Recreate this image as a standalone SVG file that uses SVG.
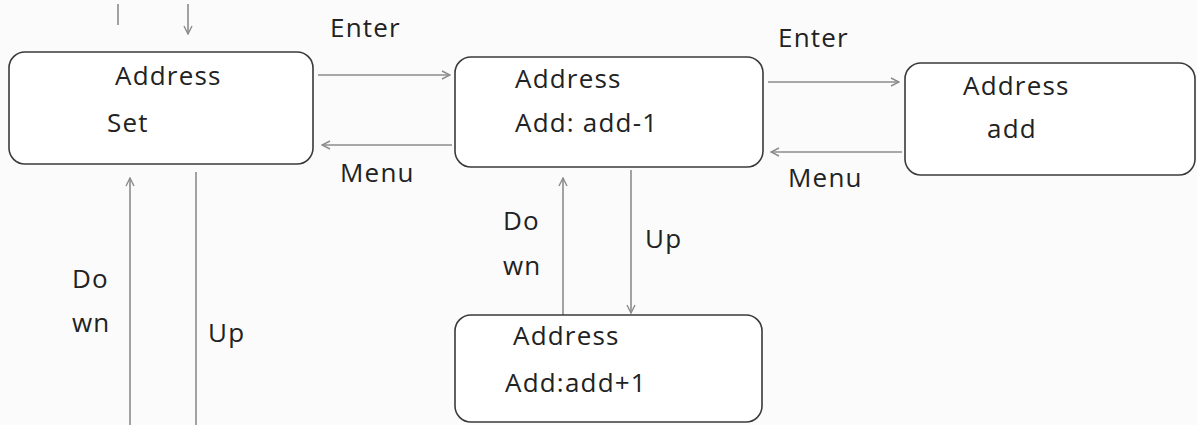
<svg xmlns="http://www.w3.org/2000/svg" width="1197" height="425" viewBox="0 0 1197 425">
<style>
.box{fill:#ffffff;stroke:#3a3a3a;stroke-width:1.6}
.t{font-family:"Open Sans","Noto Sans",sans-serif;font-size:26px;fill:#222;letter-spacing:1.2px}
.c{stroke:#8c8c8c;stroke-width:1.6;fill:none}
</style>
<defs>
<marker id="ah" viewBox="0 0 10 10" refX="9" refY="5" markerWidth="10" markerHeight="10" markerUnits="userSpaceOnUse" orient="auto">
<path d="M1,1 L9,5 L1,9" fill="none" stroke="#8c8c8c" stroke-width="1.4"/>
</marker>
</defs>
<rect width="1197" height="425" fill="#fbfbfb"/>
<g id="connectors">
<line class="c" x1="118" y1="4" x2="118" y2="25"/>
<line class="c" x1="188" y1="4" x2="188" y2="34" marker-end="url(#ah)"/>
<line class="c" x1="318" y1="75" x2="450" y2="75" marker-end="url(#ah)"/>
<line class="c" x1="452" y1="145" x2="322" y2="145" marker-end="url(#ah)"/>
<line class="c" x1="768" y1="82" x2="899" y2="82" marker-end="url(#ah)"/>
<line class="c" x1="902" y1="152" x2="771" y2="152" marker-end="url(#ah)"/>
<line class="c" x1="631" y1="170" x2="631" y2="313" marker-end="url(#ah)"/>
<line class="c" x1="563" y1="315" x2="563" y2="178" marker-end="url(#ah)"/>
<line class="c" x1="130" y1="425" x2="130" y2="178" marker-end="url(#ah)"/>
<line class="c" x1="196" y1="172" x2="196" y2="425"/>
<text class="t" x="330" y="37">Enter</text>
<text class="t" x="340" y="182">Menu</text>
<text class="t" x="778" y="47">Enter</text>
<text class="t" x="788" y="187">Menu</text>
<text class="t" x="503" y="230">Do</text>
<text class="t" x="503" y="275">wn</text>
<text class="t" x="645" y="248">Up</text>
<text class="t" x="72" y="288">Do</text>
<text class="t" x="72" y="332">wn</text>
<text class="t" x="208" y="342">Up</text>
</g>
<g id="node-set">
<rect class="box" x="9" y="52" width="304" height="112" rx="16"/>
<text class="t" x="115" y="85">Address</text>
<text class="t" x="107" y="132">Set</text>
</g>
<g id="node-minus">
<rect class="box" x="455" y="57" width="308" height="110" rx="16"/>
<text class="t" x="515" y="88">Address</text>
<text class="t" x="515" y="132">Add: add-1</text>
</g>
<g id="node-add">
<rect class="box" x="905" y="63" width="290" height="112" rx="16"/>
<text class="t" x="963" y="95">Address</text>
<text class="t" x="987" y="138">add</text>
</g>
<g id="node-plus">
<rect class="box" x="455" y="315" width="307" height="107" rx="16"/>
<text class="t" x="513" y="345">Address</text>
<text class="t" x="505" y="392">Add:add+1</text>
</g>
</svg>
